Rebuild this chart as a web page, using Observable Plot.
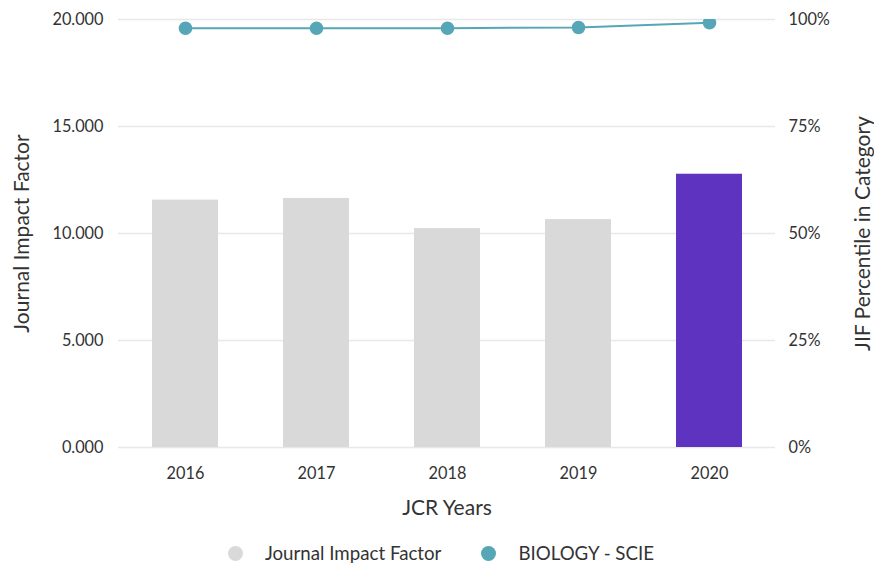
<!DOCTYPE html>
<html>
<head>
<meta charset="utf-8">
<script src="https://cdn.jsdelivr.net/npm/d3@7"></script>
<script src="https://cdn.jsdelivr.net/npm/@observablehq/plot@0.6"></script>
<style>
  body { margin: 0; background: #fff; font-family: Lato, "Noto Sans", sans-serif; }
  #legend { display: flex; justify-content: center; align-items: center; height: 26px; font-size: 18.7px; line-height: 22px; color: #333; padding-left: 8px; }
  .item { display: flex; align-items: center; margin: 0 20px; }
  .sw { width: 15px; height: 15px; border-radius: 50%; margin-right: 22px; }
</style>
</head>
<body>
<div id="chart"></div>
<div id="legend">
  <div class="item"><span class="sw" style="background:#d9d9d9"></span>Journal Impact Factor</div>
  <div class="item"><span class="sw" style="background:#55a7b8"></span>BIOLOGY - SCIE</div>
</div>
<script>
const years = ["2016", "2017", "2018", "2019", "2020"];
const jif = [11.56, 11.64, 10.23, 10.65, 12.77];
const percentile = [97.96, 97.97, 97.97, 98.13, 99.24];
const highlightYear = "2020";
const leftTicks = [0, 5, 10, 15, 20];
const rightTicks = [0, 25, 50, 75, 100];

const data = years.map((y, i) => ({year: y, jif: jif[i], pct: percentile[i]}));
const pctToY = p => p / 100 * 20;

const chart = Plot.plot({
  width: 874,
  height: 540,
  marginTop: 19,
  marginBottom: 93,
  marginLeft: 118,
  marginRight: 99,
  style: {fontFamily: "Lato, 'Noto Sans', sans-serif", fontSize: "16.3px", color: "#333"},
  x: {domain: years, paddingInner: 0.5, paddingOuter: 0.25},
  y: {domain: [0, 20]},
  marks: [
    Plot.gridY(leftTicks, {stroke: "#e8e8e8", strokeOpacity: 1, strokeWidth: 1.5}),
    Plot.barY(data, {x: "year", y: "jif", fill: d => d.year === highlightYear ? "#5e33bf" : "#d9d9d9"}),
    Plot.line(data, {x: "year", y: d => pctToY(d.pct), stroke: "#55a7b8", strokeWidth: 2, clip: true}),
    Plot.dot(data, {x: "year", y: d => pctToY(d.pct), r: 6.8, fill: "#55a7b8", clip: true}),
    Plot.axisY(leftTicks, {anchor: "left", tickSize: 0, tickPadding: 15, tickFormat: d3.format(".3f"), label: null, fontSize: 16.3}),
    Plot.axisY(rightTicks.map(pctToY), {anchor: "right", tickSize: 0, tickPadding: 13, tickFormat: d => Math.round(d * 5) + "%", label: null, fontSize: 16.3}),
    Plot.axisX({tickSize: 0, tickPadding: 20, label: null, fontSize: 16.3}),
    Plot.text(["Journal Impact Factor"], {frameAnchor: "left", textAnchor: "middle", dx: -96, rotate: -90, fontSize: 21, fill: "#333"}),
    Plot.text(["JIF Percentile in Category"], {frameAnchor: "right", textAnchor: "middle", dx: 88, rotate: -90, fontSize: 21, fill: "#333"}),
    Plot.text(["JCR Years"], {frameAnchor: "bottom", dy: 67, fontSize: 21, fill: "#333"})
  ]
});
document.getElementById("chart").appendChild(chart);
</script>
</body>
</html>
